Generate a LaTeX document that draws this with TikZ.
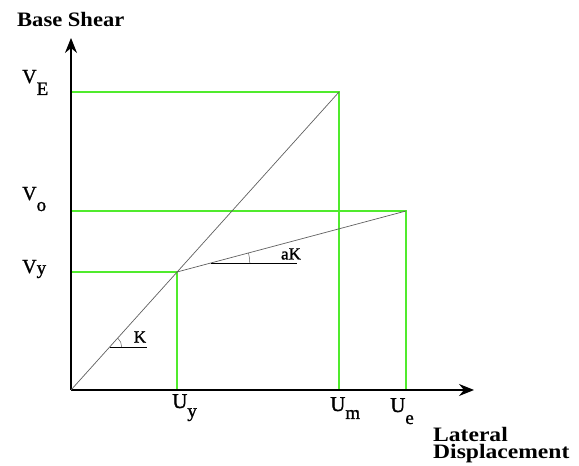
\documentclass[tikz,border=0pt]{standalone}
\usepackage{fontspec}
\setmainfont{Liberation Serif}
\newfontfamily\labfont[FakeBold=1.2]{Liberation Serif}
\usetikzlibrary{arrows.meta}
\definecolor{grn}{RGB}{80,235,45}
\definecolor{ln}{RGB}{95,95,95}
\newcommand{\subl}[2]{\raisebox{#1}{\fontsize{19}{19}\selectfont #2}}
\newcommand{\wide}[2]{\scalebox{#1}[1]{#2}}
\begin{document}
\begin{tikzpicture}[x=1pt,y=1pt,
  axis/.style={line width=1.1pt,-{Stealth[length=15pt,width=12pt,inset=5pt]}},
  guide/.style={grn,line width=1.3pt},
  curve/.style={ln,line width=0.7pt},
  tickline/.style={black,line width=0.8pt},
  anglearc/.style={ln,line width=0.5pt},
  vlab/.style={inner sep=0pt,anchor=base west,font=\labfont\fontsize{20}{20}\selectfont},
  ulab/.style={inner sep=0pt,anchor=base west,font=\labfont\fontsize{21}{21}\selectfont},
  klab/.style={inner sep=0pt,font=\labfont\fontsize{17}{17}\selectfont},
  boldlab/.style={inner sep=0pt,font=\bfseries\fontsize{20.5}{18}\selectfont,align=left}]
\useasboundingbox (0,0) rectangle (579,466);
% key points
\coordinate (O) at (71,76);
\coordinate (Ytop) at (71,428);
\coordinate (Xend) at (474,76);
\coordinate (Y) at (177,194);
\coordinate (P) at (339,374);
\coordinate (E) at (406,255);
\coordinate (VE) at (71,374);
\coordinate (Vo) at (71,255);
\coordinate (Vy) at (71,194);
\coordinate (Uy) at (177,76);
\coordinate (Um) at (339,76);
\coordinate (Ue) at (406,76);
% green guides
\draw[guide] (VE) -- (P) -- (Um);
\draw[guide] (Vo) -- (E) -- (Ue);
\draw[guide] (Vy) -- (Y) -- (Uy);
% axes
\draw[axis] (O) -- (Ytop);
\draw[axis] (O) -- (Xend);
% curves
\draw[curve] (O) -- (P);
\draw[curve] (Y) -- (E);
% stiffness K
\coordinate (k0) at (109.7,119);
\coordinate (k1) at (147,119);
\draw[tickline] (k0) -- (k1);
\draw[anglearc] ([shift={(12,0)}]k0) arc[start angle=0,end angle=48,radius=12];
\node[klab] (K) at (140,129) {K};
% stiffness aK
\coordinate (a0) at (210.8,203);
\coordinate (a1) at (297,203);
\draw[tickline] (a0) -- (a1);
\draw[anglearc] ([shift={(39,0)}]a0) arc[start angle=0,end angle=14.9,radius=39];
\node[klab] (aK) at (291,212) {aK};
% V labels
\node[vlab] (lVE) at (22,383) {V\subl{-12pt}{E}};
\node[vlab] (lVo) at (22,266) {V\subl{-11pt}{o}};
\node[vlab] (lVy) at (22,193) {V\subl{-1pt}{y}};
% U labels
\node[ulab] (lUy) at (172,58) {U\subl{-9pt}{y}};
\node[ulab] (lUm) at (330,55) {U\subl{-8pt}{m}};
\node[ulab] (lUe) at (390,54) {U\subl{-12pt}{e}};
% axis titles
\node[boldlab,anchor=base west] (bs) at (17,439) {\wide{1.1}{Base Shear}};
\node[boldlab,anchor=base west] (ld1) at (433,24) {\wide{1.15}{Lateral}};
\node[boldlab,anchor=base west] (ld2) at (433,7) {\wide{1.15}{Displacement}};
\end{tikzpicture}
\end{document}
